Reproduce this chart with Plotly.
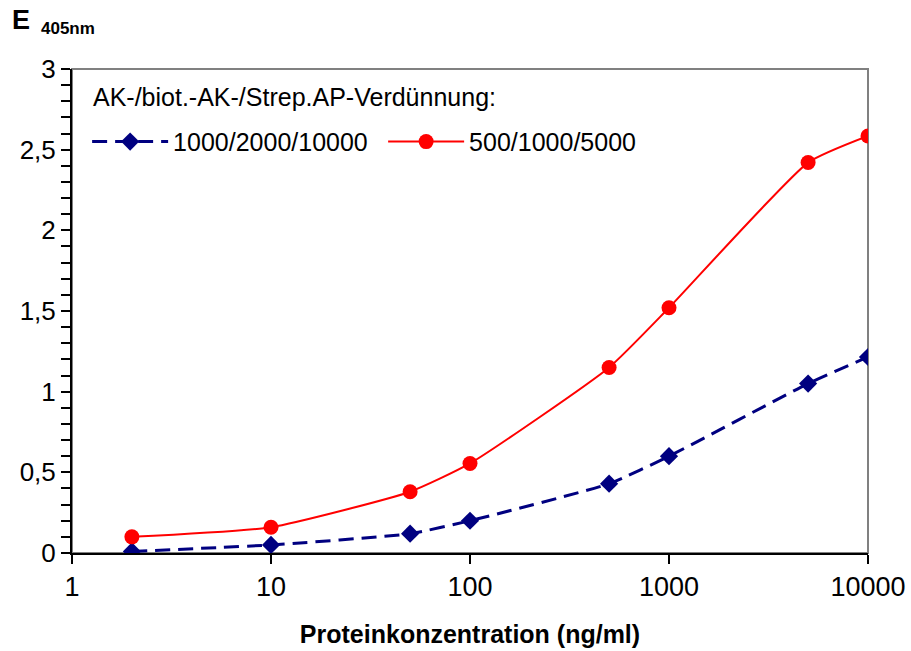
import plotly.graph_objects as go

# Protein concentration (ng/ml) and absorbance at 405 nm
konzentration = [2, 10, 50, 100, 500, 1000, 5000, 10000]
e405_1000_2000_10000 = [0.01, 0.05, 0.12, 0.20, 0.43, 0.60, 1.05, 1.215]
e405_500_1000_5000 = [0.10, 0.16, 0.38, 0.555, 1.15, 1.52, 2.42, 2.585]

serie_namen = ["1000/2000/10000", "500/1000/5000"]
legenden_titel = "AK-/biot.-AK-/Strep.AP-Verdünnung:"
y_ticks = [0, 0.5, 1, 1.5, 2, 2.5, 3]
y_ticktext = ["0", "0,5", "1", "1,5", "2", "2,5", "3"]
x_ticks = [1, 10, 100, 1000, 10000]

FONT = "Liberation Sans, Arial, sans-serif"

fig = go.Figure()
fig.add_trace(go.Scatter(
    x=konzentration, y=e405_1000_2000_10000, name=serie_namen[0],
    mode="lines+markers",
    line=dict(color="#000080", width=3, dash="15px,8px", shape="spline", smoothing=0.5),
    marker=dict(symbol="diamond", size=14, color="#000080"),
))
fig.add_trace(go.Scatter(
    x=konzentration, y=e405_500_1000_5000, name=serie_namen[1],
    mode="lines+markers",
    line=dict(color="#FF0000", width=2, shape="spline", smoothing=0.5),
    marker=dict(symbol="circle", size=15, color="#FF0000"),
))

# gray frame around the plot area; left/bottom axes are drawn black on top
fig.add_shape(type="rect", xref="paper", yref="paper", x0=0, y0=0, x1=1, y1=1,
              line=dict(color="#808080", width=2), layer="below")

# y-axis label E with subscript, placed above the axis
fig.add_annotation(xref="paper", yref="paper", x=-0.078, y=1.101, xanchor="left",
                   yanchor="middle", showarrow=False, text="<b>E</b>",
                   font=dict(family=FONT, size=27, color="black"))
fig.add_annotation(xref="paper", yref="paper", x=-0.041, y=1.083, xanchor="left",
                   yanchor="middle", showarrow=False, text="<b>405nm</b>",
                   font=dict(family=FONT, size=17, color="black"))

# legend heading
fig.add_annotation(xref="paper", yref="paper", x=0.024, y=0.942, xanchor="left",
                   yanchor="middle", showarrow=False, text=legenden_titel,
                   font=dict(family=FONT, size=25, color="black"))

fig.update_layout(
    width=911, height=651,
    margin=dict(l=72, r=43, t=69, b=98),
    paper_bgcolor="white", plot_bgcolor="white",
    font=dict(family=FONT, size=25, color="black"),
    showlegend=True,
    legend=dict(
        x=0.019, y=0.897, xanchor="left", yanchor="top",
        orientation="h", bgcolor="rgba(0,0,0,0)",
        font=dict(family=FONT, size=25, color="black"),
        itemwidth=76, entrywidth=205, entrywidthmode="pixels",
    ),
    xaxis=dict(
        type="log", range=[0, 4], automargin=False,
        tickvals=x_ticks, ticktext=[str(v) for v in x_ticks],
        showgrid=False, zeroline=False,
        showline=True, linecolor="black", linewidth=2,
        ticks="outside", ticklen=9, tickwidth=2, tickcolor="black",
        tickfont=dict(family=FONT, size=27, color="black"),
        title=dict(text="<b>Proteinkonzentration (ng/ml)</b>",
                   font=dict(family=FONT, size=25, color="black"), standoff=24),
    ),
    yaxis=dict(
        range=[0, 3], automargin=False,
        tickvals=y_ticks, ticktext=y_ticktext,
        showgrid=False, zeroline=False,
        showline=True, linecolor="black", linewidth=2,
        ticks="outside", ticklen=9, tickwidth=2, tickcolor="black",
        tickfont=dict(family=FONT, size=26, color="black"),
        minor=dict(dtick=0.1, ticks="outside", ticklen=9, tickwidth=2,
                   tickcolor="black", showgrid=False),
    ),
)

fig.write_html("out.html")
